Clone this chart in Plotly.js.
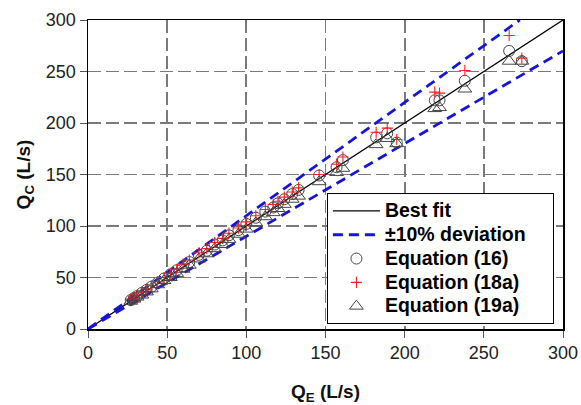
<!DOCTYPE html>
<html>
<head>
<meta charset="utf-8">
<script src="https://cdn.plot.ly/plotly-3.0.1.min.js"></script>
<style>html,body{margin:0;padding:0;background:#fff;}#chart{width:581px;height:405px;}</style>
</head>
<body>
<div id="chart"></div>
<script>
// Measured discharge Q_E (L/s)
const qE = [27, 29, 31, 34, 37, 40, 44, 48, 52, 56, 60, 64, 70, 75, 80, 85, 89, 95, 100, 106, 112, 117, 120, 124, 129, 133, 146, 157, 161, 182, 189, 195, 219, 222, 238, 266, 274];
// Computed discharge by Equation (16)
const qC16 = [28, 30, 32, 35, 38, 41, 45, 49, 53, 57, 61, 65, 72, 76, 82, 86, 91, 96, 102, 108, 114, 118, 122, 126, 131, 135, 149, 157, 164, 186, 190, 181, 222, 222, 241, 270, 260];
// Computed discharge by Equation (18a)
const qC18a = [29, 31, 33, 36, 39, 42, 46, 50, 54, 58, 63, 67, 74, 78, 84, 88, 93, 98, 104, 110, 116, 121, 124, 128, 133, 137, 150, 160, 167, 191, 195, 184, 230, 229, 251, 285, 263];
// Computed discharge by Equation (19a)
const qC19a = [27, 29, 31, 33, 36, 39, 43, 47, 50, 54, 58, 62, 68, 73, 78, 82, 87, 92, 97, 103, 109, 113, 117, 121, 126, 129, 143, 152, 156, 179, 185, 180, 214, 215, 233, 260, 260];
// Reference lines
const fitX = [0, 300], fitY = [0, 300];
const upX = [0, 272.73], upY = [0, 300];
const loX = [0, 300], loY = [0, 270];
// Legend labels
const names = ['Best fit', '±10% deviation', 'Equation (16)', 'Equation (18a)', 'Equation (19a)'];

const FONT = 'Liberation Sans, Arial, sans-serif';
const lbl = s => '<span style="font-size:19.5px">' + s + '&nbsp;&nbsp;&nbsp;&nbsp;</span>';

const traces = [
  {x: fitX, y: fitY, mode: 'lines', name: lbl(names[0]), line: {color: '#000', width: 1.3}},
  {x: upX, y: upY, mode: 'lines', name: lbl(names[1]), line: {color: '#1515dd', width: 2.8, dash: '10px,6px'}},
  {x: loX, y: loY, mode: 'lines', name: lbl(names[1]), showlegend: false, line: {color: '#1515dd', width: 2.8, dash: '10px,6px'}},
  {x: qE, y: qC16, mode: 'markers', name: lbl(names[2]), marker: {symbol: 'circle-open', size: 11, color: '#444', line: {width: 1}}},
  {x: qE, y: qC18a, mode: 'markers', name: lbl(names[3]), marker: {symbol: 'cross-thin-open', size: 8, color: '#ff2020', line: {width: 1.1, color: '#ff2020'}}},
  {x: qE, y: qC19a, mode: 'markers', name: lbl(names[4]), marker: {symbol: 'triangle-up-open', size: 12, color: '#444', line: {width: 1}}}
];

const axisCommon = {
  range: [0, 300], dtick: 50, showline: true, mirror: true, linecolor: '#000', linewidth: 1.5,
  showgrid: true, gridcolor: '#7a7a7a', griddash: '13px,5px', gridwidth: 1.8,
  ticks: 'outside', ticklen: 7, tickcolor: '#555', zeroline: false,
  tickfont: {family: FONT, size: 18, color: '#222'}
};

const layout = {
  width: 581, height: 405,
  margin: {l: 88, r: 18, t: 20, b: 76},
  paper_bgcolor: '#fff', plot_bgcolor: '#fff',
  showlegend: true,
  xaxis: Object.assign({}, axisCommon, {title: {text: '<b>Q<sub>E</sub> (L/s)</b>', standoff: 22, font: {family: FONT, size: 19, color: '#111'}}}),
  yaxis: Object.assign({}, axisCommon, {title: {text: '<b>Q<sub>C</sub> (L/s)</b>', standoff: 10, font: {family: FONT, size: 19, color: '#111'}}}),
  legend: {
    x: 0.503, y: 0.44, xanchor: 'left', yanchor: 'top',
    bgcolor: '#fff', bordercolor: '#000', borderwidth: 1,
    font: {family: FONT, size: 16, color: '#000', weight: 'bold'},
    tracegroupgap: 0, itemwidth: 47
  }
};

Plotly.newPlot('chart', traces, layout, {displayModeBar: false, staticPlot: true});
</script>
</body>
</html>
